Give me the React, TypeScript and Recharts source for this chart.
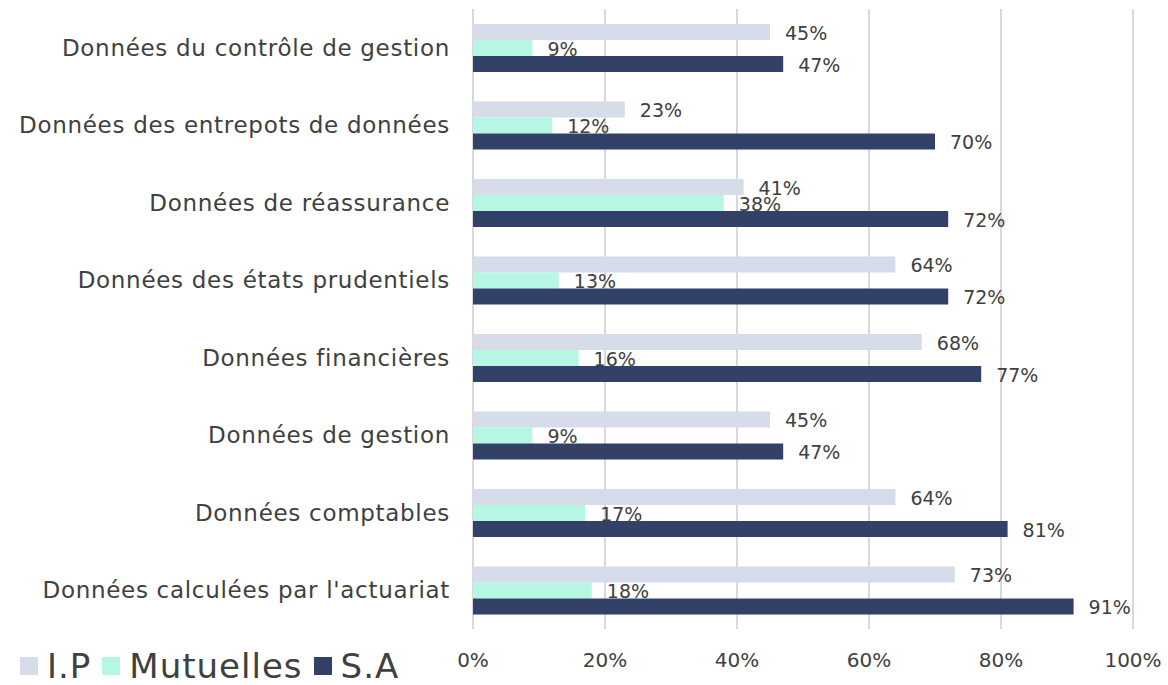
import React from 'react';
import {
	BarChart,
	Bar,
	XAxis,
	YAxis,
	CartesianGrid,
	Legend,
	LabelList,
} from 'recharts';

const categories = [
	'Données du contrôle de gestion',
	'Données des entrepots de données',
	'Données de réassurance',
	'Données des états prudentiels',
	'Données financières',
	'Données de gestion',
	'Données comptables',
	"Données calculées par l'actuariat",
];
const ipValues = [45, 23, 41, 64, 68, 45, 64, 73];
const mutuellesValues = [9, 12, 38, 13, 16, 9, 17, 18];
const saValues = [47, 70, 72, 72, 77, 47, 81, 91];
const xTicks = [0, 20, 40, 60, 80, 100];

const series = [
	{ key: 'ip', name: 'I.P', color: '#D6DCEA' },
	{ key: 'mut', name: 'Mutuelles', color: '#B5F7E3' },
	{ key: 'sa', name: 'S.A', color: '#334169' },
];

const data = categories.map((name, i) => ({
	name,
	ip: ipValues[i],
	mut: mutuellesValues[i],
	sa: saValues[i],
}));

const FONT = "'DejaVu Sans', sans-serif";
const TEXT = '#404040';

const renderLegend = () => (
	<div style={{ display: 'flex', alignItems: 'center', fontFamily: FONT, fontSize: 34, letterSpacing: 1, color: TEXT }}>
		{series.map((s) => (
			<div key={s.key} style={{ display: 'flex', alignItems: 'center', marginRight: 11 }}>
				<span style={{ width: 18, height: 18, background: s.color, display: 'inline-block', marginRight: 9 }} />
				<span>{s.name}</span>
			</div>
		))}
	</div>
);

export default function App() {
	return (
		<div style={{ position: 'absolute', left: 0, top: 0, width: 1168, height: 685, background: '#fff' }}>
			<BarChart
				width={1168}
				height={685}
				data={data}
				layout='vertical'
				margin={{ top: 9, right: 35, bottom: 0, left: 0 }}
				barGap={0}
			>
				<CartesianGrid horizontal={false} stroke='#D9D9D9' strokeWidth={2} />
				<XAxis
					type='number'
					domain={[0, 100]}
					ticks={xTicks}
					tickFormatter={(v) => `${v}%`}
					axisLine={false}
					tickLine={false}
					height={56}
					tickMargin={18}
					tick={{ fill: TEXT, fontSize: 20, fontFamily: FONT }}
				/>
				<YAxis
					type='category'
					dataKey='name'
					width={473}
					axisLine={false}
					tickLine={false}
					tickSize={0}
					tickMargin={23}
					interval={0}
					tick={{ fill: TEXT, fontSize: 23, fontFamily: FONT, letterSpacing: 0.7 }}
				/>
				<Legend
					content={renderLegend}
					layout='horizontal'
					verticalAlign='middle'
					align='center'
					wrapperStyle={{ position: 'absolute', left: 20, top: 646, width: 560 }}
				/>
				{series.map((s) => (
					<Bar key={s.key} dataKey={s.key} name={s.name} fill={s.color} barSize={16} isAnimationActive={false}>
						<LabelList
							dataKey={s.key}
							position='right'
							offset={15}
							formatter={(v: any) => `${v}%`}
							style={{ fill: TEXT, fontSize: 19, fontFamily: FONT, transform: 'translateY(1px)' }}
						/>
					</Bar>
				))}
			</BarChart>
		</div>
	);
}
